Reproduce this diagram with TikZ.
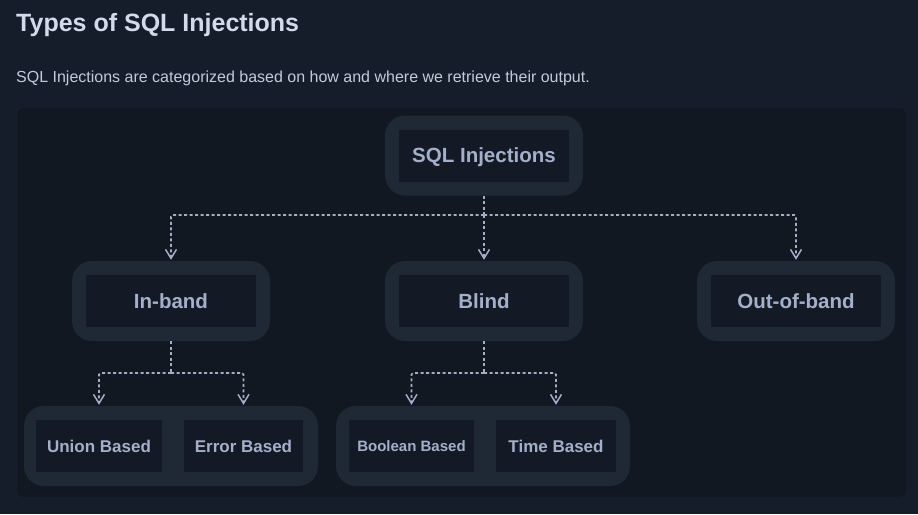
\documentclass[tikz,border=0pt]{standalone}
\usepackage{fontspec}
\setmainfont{Liberation Sans}
\usetikzlibrary{arrows.meta}
\definecolor{pagebg}{HTML}{151D2B}
\definecolor{panelbg}{HTML}{111822}
\definecolor{panelline}{HTML}{1D2634}
\definecolor{boxbg}{HTML}{1F2835}
\definecolor{innerbg}{HTML}{131A26}
\definecolor{labelcol}{HTML}{A4B0C9}
\definecolor{linecol}{HTML}{A2AEC6}
\definecolor{titlecol}{HTML}{D3DBEB}
\definecolor{introcol}{HTML}{C2CBDC}
\begin{document}
\begin{tikzpicture}[x=1pt,y=1pt,
	every node/.style={inner sep=0pt},
	outerbox/.style={fill=boxbg, rounded corners=20pt, minimum width=198pt, minimum height=80pt},
	groupbox/.style={fill=boxbg, rounded corners=20pt, minimum width=294pt, minimum height=80pt},
	innerbox/.style={fill=innerbg, minimum width=170pt, minimum height=52pt, text=labelcol, text height=14.7pt, text depth=0pt, font=\bfseries\fontsize{20.5}{24}\selectfont},
	subbox/.style={fill=innerbg, minimum height=52pt, text=labelcol, text height=12.2pt, text depth=0pt, font=\bfseries\fontsize{17}{20}\selectfont},
	link/.style={draw=linecol, line width=1.6pt, dash pattern=on 3pt off 2.5pt, rounded corners=1.5pt},
	tip/.style={-{Straight Barb[length=9pt,width=11pt,line width=1.5pt]}, shorten >=1pt}]
	\fill [pagebg] (0,0) rectangle (918,-514);
	\draw [panelline, fill=panelbg, rounded corners=4pt] (17,-108) rectangle (906,-497);
	\node [anchor=base west, text=titlecol, font=\bfseries\fontsize{25}{30}\selectfont] (title) at (16,-31) {Types of SQL Injections};
	\node [anchor=base west, text=introcol, font=\fontsize{16}{19}\selectfont] (intro) at (16,-82) {SQL Injections are categorized based on how and where we retrieve their output.};
	\node [outerbox] (sqlo) at (484,-155.5) {};
	\node [innerbox] (sql) at (sqlo) {SQL Injections};
	\node [outerbox] (inbo) at (171,-301) {};
	\node [innerbox] (inband) at (inbo) {In-band};
	\node [outerbox] (blo) at (484,-301) {};
	\node [innerbox] (blind) at (blo) {Blind};
	\node [outerbox] (oobo) at (796,-301) {};
	\node [innerbox] (oob) at (oobo) {Out-of-band};
	\node [groupbox] (leftgrp) at (171,-446) {};
	\node [subbox, minimum width=126pt] (union) at (99,-446) {Union Based};
	\node [subbox, minimum width=119pt] (error) at (243.5,-446) {Error Based};
	\node [groupbox] (rightgrp) at (483,-446) {};
	\node [subbox, minimum width=125pt, text height=10.7pt, font=\bfseries\fontsize{15}{18}\selectfont] (boolean) at (411.5,-446) {Boolean Based};
	\node [subbox, minimum width=120pt] (time) at (556,-446) {Time Based};
	\coordinate (topbus) at (484,-215);
	\coordinate (inbus) at (171,-373);
	\coordinate (blbus) at (484,-373);
	\draw [link] (sqlo.south) -- (topbus);
	\draw [link, tip] (topbus) -| (inbo.north);
	\draw [link, tip] (topbus) -- (blo.north);
	\draw [link, tip] (topbus) -| (oobo.north);
	\draw [link] (inbo.south) -- (inbus);
	\draw [link, tip] (inbus) -| (union |- leftgrp.north);
	\draw [link, tip] (inbus) -| (error |- leftgrp.north);
	\draw [link] (blo.south) -- (blbus);
	\draw [link, tip] (blbus) -| (boolean |- rightgrp.north);
	\draw [link, tip] (blbus) -| (time |- rightgrp.north);
\end{tikzpicture}
\end{document}
